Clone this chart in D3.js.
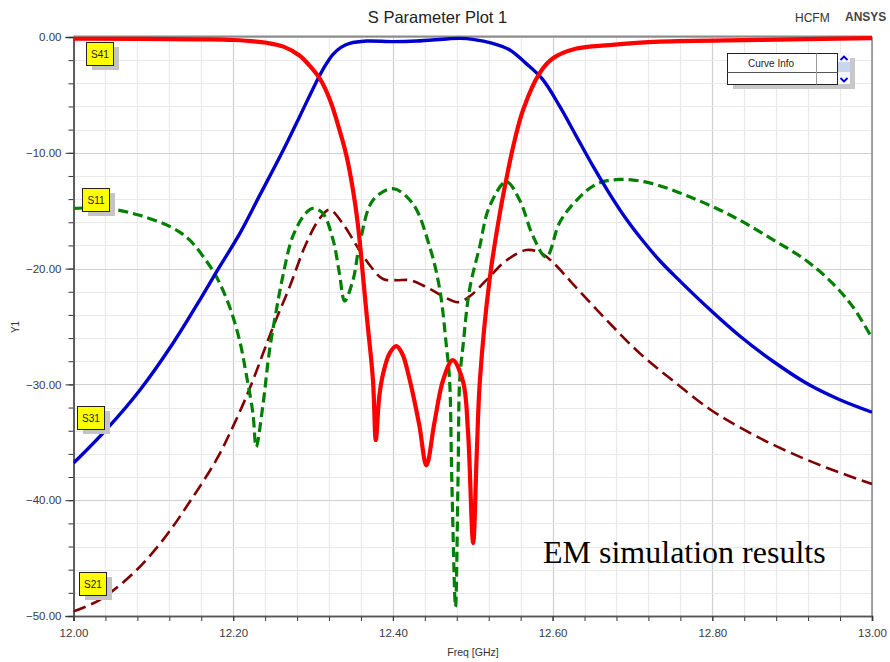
<!DOCTYPE html>
<html>
<head>
<meta charset="utf-8">
<script src="https://cdn.jsdelivr.net/npm/d3@7"></script>
<style>
html,body{margin:0;padding:0;background:#fff;}
svg{display:block;}
text{font-family:"Liberation Sans",Arial,sans-serif;}
</style>
</head>
<body>
<svg id="chart" width="890" height="662"></svg>
<script>
// ---------- data ----------
const title = "S Parameter Plot 1";
const xTickLabels = [12.0, 12.2, 12.4, 12.6, 12.8, 13.0];
const yTickLabels = [0, -10, -20, -30, -40, -50];

const s41Freq = [12.0, 12.158, 12.2, 12.242, 12.263, 12.283, 12.296, 12.3085, 12.321, 12.333, 12.342, 12.35, 12.356, 12.361, 12.367, 12.375, 12.3786, 12.383, 12.388, 12.396, 12.4045, 12.412, 12.421, 12.433, 12.442, 12.452, 12.463, 12.475, 12.488, 12.494, 12.5005, 12.505, 12.509, 12.521, 12.534, 12.542, 12.5505, 12.563, 12.584, 12.6005, 12.63, 12.671, 12.734, 12.859, 13.0];
const s41Db   = [-0.15, -0.2, -0.26, -0.5, -0.83, -1.6, -2.5, -3.6, -5.4, -8.0, -10.3, -13.2, -16.1, -19.5, -23.9, -29.6, -34.8, -31.0, -29.0, -27.3, -26.7, -27.4, -29.6, -33.5, -37.0, -33.3, -29.6, -27.9, -29.8, -34.0, -43.7, -36.0, -29.6, -21.0, -15.2, -12.3, -9.5, -6.3, -3.1, -1.84, -1.0, -0.7, -0.4, -0.25, -0.1];

const s31Freq = [12.0, 12.041, 12.083, 12.125, 12.16, 12.1815, 12.208, 12.233, 12.261, 12.283, 12.304, 12.315, 12.325, 12.335, 12.346, 12.367, 12.4, 12.43, 12.47, 12.484, 12.5, 12.525, 12.546, 12.567, 12.588, 12.609, 12.63, 12.651, 12.671, 12.692, 12.713, 12.734, 12.751, 12.801, 12.834, 12.876, 12.918, 12.959, 13.0];
const s31Db   = [-36.8, -33.9, -30.5, -26.4, -22.5, -20.0, -17.0, -13.7, -10.0, -6.9, -3.9, -2.5, -1.5, -0.9, -0.55, -0.35, -0.4, -0.35, -0.15, -0.12, -0.2, -0.55, -1.1, -2.3, -3.7, -6.0, -8.6, -11.2, -13.5, -15.7, -17.6, -19.3, -20.5, -23.8, -25.8, -28.0, -29.9, -31.3, -32.4];

const s11Freq = [12.0, 12.041, 12.083, 12.1245, 12.145, 12.166, 12.179, 12.1955, 12.208, 12.216, 12.2247, 12.2288, 12.237, 12.2456, 12.254, 12.262, 12.2747, 12.291, 12.2998, 12.312, 12.325, 12.333, 12.3396, 12.35, 12.3586, 12.375, 12.4, 12.425, 12.446, 12.4587, 12.467, 12.471, 12.4737, 12.4784, 12.4816, 12.4837, 12.4878, 12.496, 12.5087, 12.5206, 12.542, 12.5588, 12.5755, 12.592, 12.609, 12.63, 12.655, 12.684, 12.7215, 12.7716, 12.8258, 12.8758, 12.9176, 12.951, 12.976, 13.0];
const s11Db   = [-14.8, -14.8, -15.4, -16.5, -17.5, -19.3, -20.7, -23.3, -26.2, -29.0, -32.5, -35.4, -31.9, -27.0, -23.6, -20.7, -17.2, -15.2, -14.8, -15.2, -17.5, -20.4, -22.8, -21.0, -17.8, -14.1, -13.1, -14.4, -18.1, -21.8, -26.7, -29.6, -38.0, -49.2, -38.0, -29.6, -26.7, -21.8, -18.1, -14.7, -12.5, -14.1, -17.2, -19.0, -16.0, -14.1, -12.7, -12.3, -12.6, -13.8, -15.5, -17.5, -19.3, -21.3, -23.3, -26.0];

const s21Freq = [12.0, 12.033, 12.075, 12.1124, 12.145, 12.179, 12.2, 12.2204, 12.2496, 12.2705, 12.291, 12.308, 12.3206, 12.337, 12.358, 12.372, 12.3877, 12.405, 12.421, 12.442, 12.463, 12.4816, 12.496, 12.517, 12.542, 12.567, 12.584, 12.601, 12.625, 12.667, 12.709, 12.751, 12.796, 12.834, 12.876, 12.918, 12.959, 13.0];
const s21Db   = [-49.6, -48.6, -46.3, -43.4, -40.2, -36.5, -33.6, -30.4, -25.1, -21.6, -17.9, -15.7, -14.9, -16.1, -18.4, -19.8, -20.9, -21.0, -21.0, -21.6, -22.4, -22.9, -22.4, -21.0, -19.3, -18.4, -18.6, -19.5, -21.3, -24.4, -27.3, -29.7, -32.1, -33.7, -35.2, -36.5, -37.6, -38.6];

const seriesNames = ["S21", "S11", "S31", "S41"];
// ---------- layout ----------
const svg = d3.select("#chart");
const x = d3.scaleLinear().domain([12, 13]).range([73.5, 872]);
const y = d3.scaleLinear().domain([-50, 0]).range([616, 37]);

// grid
const minorX = d3.range(0, 26).map(i => 12 + i * 0.04);
const minorY = d3.range(0, 26).map(i => -50 + i * 2);
const g = svg.append("g");
const px = v => Math.round(x(v)) + 0.5;
const py = v => Math.round(y(v)) + 0.5;

g.selectAll(".gx").data(minorX).enter().append("line")
  .attr("x1", px).attr("x2", px).attr("y1", y(0)).attr("y2", y(-50))
  .attr("stroke", (d, i) => i % 5 === 0 ? "#cfcfcf" : "#e9e9e9").attr("stroke-width", 1.2);
g.selectAll(".gy").data(minorY).enter().append("line")
  .attr("y1", py).attr("y2", py).attr("x1", x(12)).attr("x2", x(13))
  .attr("stroke", (d, i) => i % 5 === 0 ? "#cfcfcf" : "#e9e9e9").attr("stroke-width", 1.2);

// frame top / right
svg.append("line").attr("x1", x(12)).attr("x2", x(13)).attr("y1", y(0) - 0.5).attr("y2", y(0) - 0.5).attr("stroke", "#8a8a8a").attr("stroke-width", 2);
svg.append("line").attr("x1", x(13)).attr("x2", x(13)).attr("y1", y(0)).attr("y2", y(-50)).attr("stroke", "#8a8a8a").attr("stroke-width", 1.5);

// axes
const yAxis = d3.axisLeft(y).tickValues(yTickLabels).tickFormat(d3.format(".2f")).tickSize(8).tickPadding(4);
const yMinor = d3.axisLeft(y).tickValues(minorY).tickFormat("").tickSize(5);
const xAxis = d3.axisBottom(x).tickValues(xTickLabels).tickFormat(d3.format(".2f")).tickSize(5).tickPadding(8);
const xMinor = d3.axisBottom(x).tickValues(minorX).tickFormat("").tickSize(5);

function styleAxis(sel) {
  sel.select(".domain").attr("stroke", "#555").attr("stroke-width", 1.5);
  sel.selectAll(".tick line").attr("stroke", "#333");
  sel.selectAll("text").attr("fill", "#3a3a3a").style("font-size", "11.5px").style("font-family", '"Liberation Sans",Arial,sans-serif');
}
svg.append("g").attr("transform", "translate(" + x(12) + ",0)").call(yMinor).call(styleAxis);
svg.append("g").attr("transform", "translate(" + x(12) + ",0)").call(yAxis).call(styleAxis);
svg.append("g").attr("transform", "translate(0," + y(-50) + ")").call(xMinor).call(styleAxis);
svg.append("g").attr("transform", "translate(0," + y(-50) + ")").call(xAxis).call(styleAxis);

// curves
svg.append("defs").append("clipPath").attr("id", "clip").append("rect")
  .attr("x", x(12)).attr("y", y(0) - 4).attr("width", x(13) - x(12)).attr("height", y(-50) - y(0) + 4);
const line = d3.line().x(d => x(d[0])).y(d => y(d[1])).curve(d3.curveCatmullRom.alpha(0.5));
const series = {
  S21: { f: s21Freq, v: s21Db, color: "#800000", w: 2.6, dash: "13,6" },
  S11: { f: s11Freq, v: s11Db, color: "#008000", w: 3.2, dash: "10,5" },
  S31: { f: s31Freq, v: s31Db, color: "#0000cc", w: 3.4, dash: null },
  S41: { f: s41Freq, v: s41Db, color: "#ff0000", w: 4.2, dash: null }
};
const cg = svg.append("g").attr("clip-path", "url(#clip)");
seriesNames.forEach(n => {
  const s = series[n];
  const pts = s.f.map((f, i) => [f, s.v[i]]);
  cg.append("path").attr("d", line(pts)).attr("fill", "none")
    .attr("stroke", s.color).attr("stroke-width", s.w)
    .attr("stroke-dasharray", s.dash).attr("stroke-linejoin", "round");
});

// series tags
const tags = [
  { name: "S41", x0: 86, y0: 42 },
  { name: "S11", x0: 82, y0: 188 },
  { name: "S31", x0: 77, y0: 406 },
  { name: "S21", x0: 79, y0: 572 }
];
tags.forEach(t => {
  svg.append("rect").attr("x", t.x0 + 6).attr("y", t.y0 + 5).attr("width", 27).attr("height", 23).attr("fill", "#c4c4c4");
  svg.append("rect").attr("x", t.x0 + 0.5).attr("y", t.y0 + 0.5).attr("width", 27).attr("height", 23).attr("fill", "#ffff00").attr("stroke", "#222").attr("stroke-width", 1);
  svg.append("text").attr("x", t.x0 + 14).attr("y", t.y0 + 16).attr("text-anchor", "middle")
    .style("font-size", "10px").attr("fill", "#222").text(t.name);
});

// curve info box
svg.append("rect").attr("x", 733).attr("y", 58).attr("width", 122).attr("height", 31).attr("fill", "#c8c8c8");
svg.append("rect").attr("x", 727.5).attr("y", 53.5).attr("width", 110).attr("height", 31).attr("fill", "#fff").attr("stroke", "#222");
svg.append("line").attr("x1", 727.5).attr("x2", 837.5).attr("y1", 72.5).attr("y2", 72.5).attr("stroke", "#555");
svg.append("line").attr("x1", 816.5).attr("x2", 816.5).attr("y1", 53.5).attr("y2", 84.5).attr("stroke", "#999");
svg.append("text").attr("x", 771).attr("y", 67).attr("text-anchor", "middle").style("font-size", "10px").attr("fill", "#222").text("Curve Info");
svg.append("rect").attr("x", 838).attr("y", 53).attr("width", 12).attr("height", 31).attr("fill", "#f4f6fa");
svg.append("rect").attr("x", 838).attr("y", 62).attr("width", 12).attr("height", 10).attr("fill", "#c6d6ee");
svg.append("path").attr("d", "M840.5,60 L844,56.5 L847.5,60").attr("fill", "none").attr("stroke", "#0000cc").attr("stroke-width", 1.8);
svg.append("path").attr("d", "M840.5,78 L844,81.5 L847.5,78").attr("fill", "none").attr("stroke", "#0000cc").attr("stroke-width", 1.8);

// titles
svg.append("text").attr("x", 437.5).attr("y", 23).attr("text-anchor", "middle").style("font-size", "16.5px").attr("fill", "#222").text(title);
svg.append("text").attr("x", 795).attr("y", 22).style("font-size", "12px").attr("fill", "#333").text("HCFM");
svg.append("text").attr("x", 845).attr("y", 21).style("font-size", "12px").style("font-weight", "bold").attr("fill", "#444").text("ANSYS");
svg.append("text").attr("x", 473).attr("y", 656).attr("text-anchor", "middle").style("font-size", "10.5px").attr("fill", "#333").text("Freq [GHz]");
svg.append("text").attr("transform", "translate(19,327) rotate(-90)").attr("text-anchor", "middle").style("font-size", "10px").attr("fill", "#333").text("Y1");

// annotation
svg.append("text").attr("x", 543).attr("y", 563).style("font-family", '"Liberation Serif","Times New Roman",serif').style("font-size", "32px").attr("fill", "#000").text("EM simulation results");
</script>
</body>
</html>
